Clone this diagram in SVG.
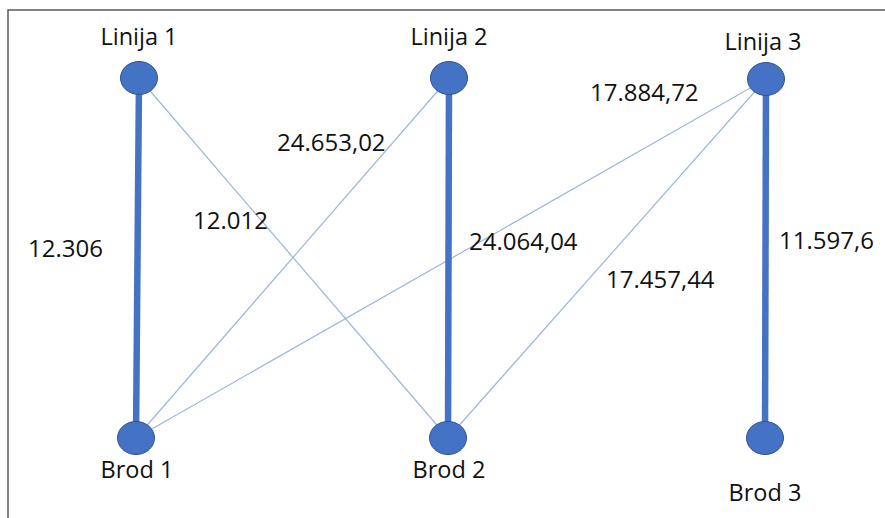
<svg xmlns="http://www.w3.org/2000/svg" width="885" height="518" viewBox="0 0 885 518">
<style>
.bg{fill:#ffffff}
.frame{fill:none;stroke:#595959;stroke-width:1.5}
.thick{stroke:#4472C4;stroke-width:6.5;stroke-linecap:butt}
.thin{stroke:#9EB4E0;stroke-width:1.2}
.node{fill:#4472C4;stroke:#2F528F;stroke-width:1}
.lbl{font-family:"Open Sans","Noto Sans",sans-serif;font-size:23.5px;fill:#111111;text-anchor:middle}
.num{font-family:"Open Sans","Noto Sans",sans-serif;font-size:24px;fill:#111111}
</style>
<rect class="bg" x="0" y="0" width="885" height="518"/>
<path class="frame" d="M8,518 V10 H885"/>
<g id="connectors">
<line class="thin" x1="139" y1="78" x2="448" y2="438"/>
<line class="thin" x1="449" y1="78" x2="136" y2="438"/>
<line class="thin" x1="766" y1="79" x2="136" y2="438"/>
<line class="thin" x1="766" y1="79" x2="448" y2="438"/>
<line class="thick" x1="139" y1="78" x2="136" y2="438"/>
<line class="thick" x1="449" y1="78" x2="448" y2="438"/>
<line class="thick" x1="766" y1="79" x2="765" y2="438"/>
<text class="num" x="28" y="257">12.306</text>
<text class="num" x="277" y="151">24.653,02</text>
<text class="num" x="193" y="229">12.012</text>
<text class="num" x="469" y="250">24.064,04</text>
<text class="num" x="606" y="288">17.457,44</text>
<text class="num" x="590" y="101">17.884,72</text>
<text class="num" x="779" y="249">11.597,6</text>
</g>
<g id="linija1"><ellipse class="node" cx="139" cy="78" rx="18.5" ry="16.5"/><text class="lbl" x="139" y="45">Linija 1</text></g>
<g id="linija2"><ellipse class="node" cx="449" cy="78" rx="18.5" ry="16.5"/><text class="lbl" x="449" y="45">Linija 2</text></g>
<g id="linija3"><ellipse class="node" cx="766" cy="79" rx="18.5" ry="16.5"/><text class="lbl" x="763" y="50">Linija 3</text></g>
<g id="brod1"><ellipse class="node" cx="136" cy="438" rx="18.5" ry="16.5"/><text class="lbl" x="137" y="478">Brod 1</text></g>
<g id="brod2"><ellipse class="node" cx="448" cy="438" rx="18.5" ry="16.5"/><text class="lbl" x="449" y="478">Brod 2</text></g>
<g id="brod3"><ellipse class="node" cx="765" cy="438" rx="18.5" ry="16.5"/><text class="lbl" x="765" y="501">Brod 3</text></g>
</svg>
